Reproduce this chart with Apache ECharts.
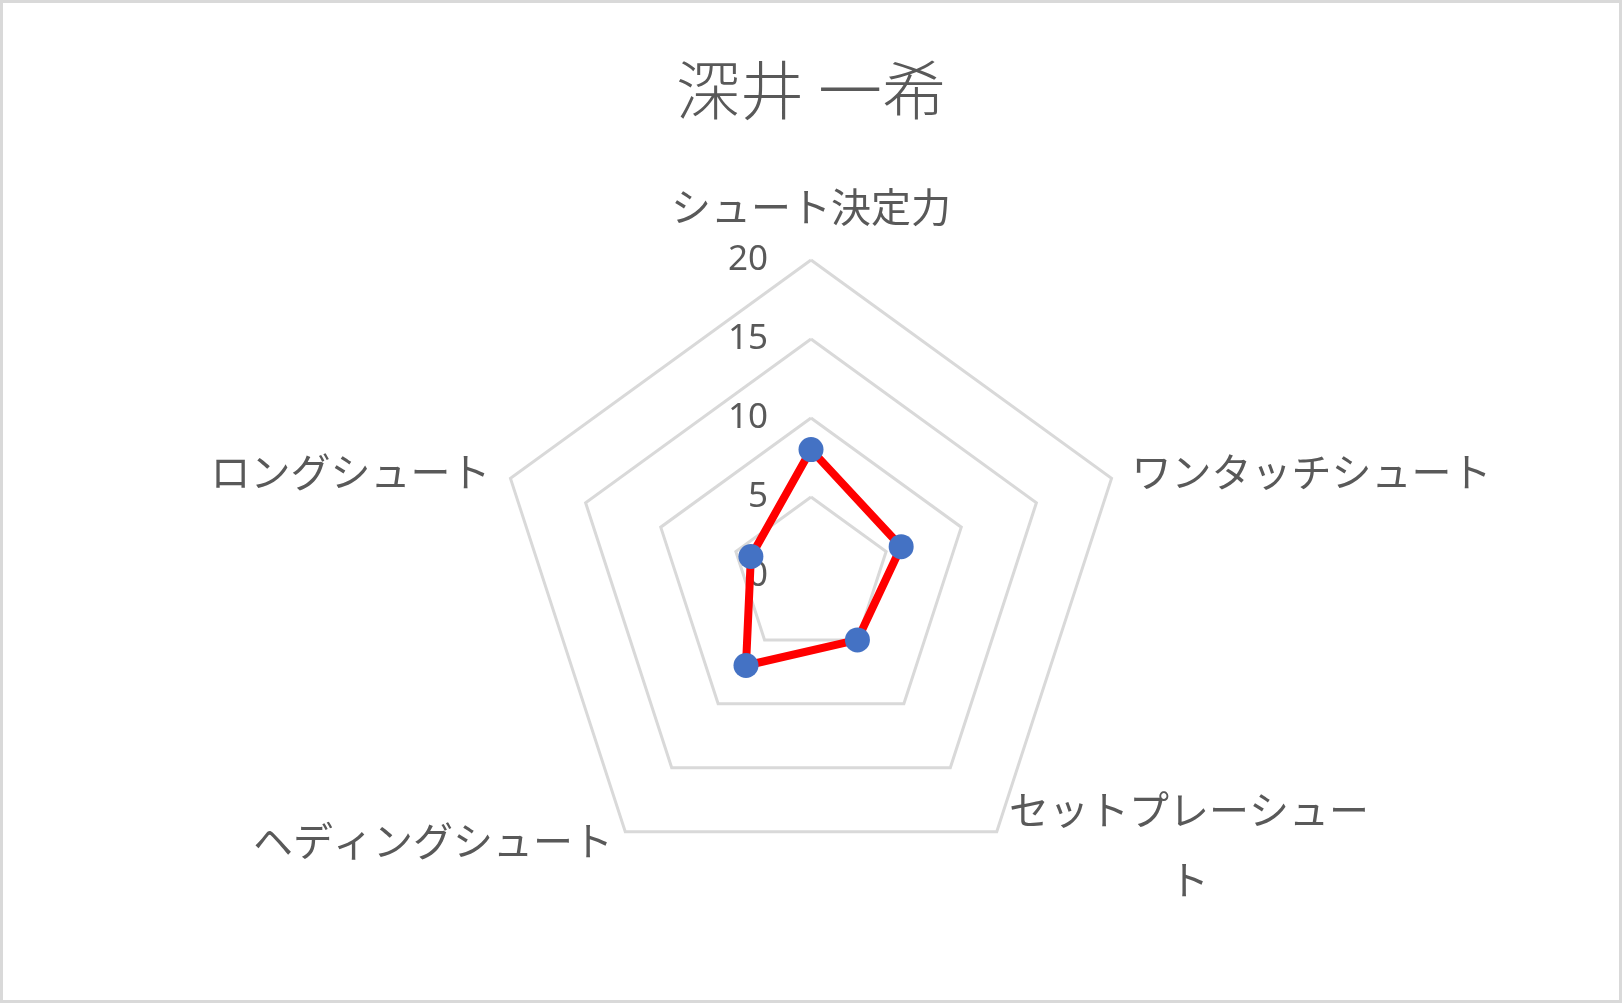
<!DOCTYPE html>
<html>
<head>
<meta charset="utf-8">
<script src="https://cdn.jsdelivr.net/npm/echarts@6/dist/echarts.min.js"></script>
<style>
  html, body { margin: 0; padding: 0; background: #ffffff; }
  #chart { position: absolute; left: 0; top: 0; width: 1622px; height: 1003px; }
  #frame { position: absolute; left: 0; top: 0; width: 1622px; height: 1003px; box-sizing: border-box; border: 3px solid #d9d9d9; pointer-events: none; }
</style>
</head>
<body>
<div id="chart"></div>
<div id="frame"></div>
<script>
const titleText = '深井 一希';
const categories = ['シュート決定力', 'ワンタッチシュート', 'セットプレーシュート', 'ヘディングシュート', 'ロングシュート'];
const values = [8, 6, 5, 7, 4];
const axisMax = 20;
const axisSplits = 4;

const FONT = '"Noto Sans CJK JP", "Noto Sans", sans-serif';
const NAME_SIZE = 40;
const chart = echarts.init(document.getElementById('chart'));

// ECharts lays radar indicators out counter-clockwise; the reference goes clockwise,
// so keep the first item on top and reverse the rest.
const order = [0].concat(categories.slice(1).map(function (_, i) { return categories.length - 1 - i; }));
const orderedNames = order.map(function (i) { return categories[i]; });
const orderedValues = order.map(function (i) { return values[i]; });

const indicators = orderedNames.map(function (name, i) {
  const ind = { name: name, max: axisMax, min: 0 };
  if (i === 0) {
    ind.axisLabel = { show: true };
  }
  return ind;
});

function isLower(name) {
  const i = orderedNames.indexOf(name);
  const ang = (90 + 360 * i / orderedNames.length) * Math.PI / 180;
  return Math.sin(ang) < -0.1;
}

chart.setOption({
  animation: false,
  backgroundColor: '#ffffff',
  title: {
    text: titleText,
    left: 'center',
    top: 53,
    textStyle: { fontFamily: FONT, fontSize: 64, fontWeight: 300, color: '#595959' }
  },
  radar: {
    center: [811, 576],
    radius: 316,
    startAngle: 90,
    shape: 'polygon',
    splitNumber: axisSplits,
    indicator: indicators,
    nameGap: 21,
    axisName: {
      color: '#595959',
      fontFamily: FONT,
      fontSize: NAME_SIZE,
      formatter: function (name) {
        if (name === categories[0]) {
          return '{top|' + name + '}';
        }
        const style = isLower(name) ? 'low' : 'n';
        if (name.length > 9) {
          return '{wrap|' + name.slice(0, 9) + '}\n{wrap|' + name.slice(9) + '}';
        }
        return '{' + style + '|' + name + '}';
      },
      rich: {
        top: { fontFamily: FONT, fontSize: NAME_SIZE, color: '#595959', padding: [0, 0, 12, 0] },
        n: { fontFamily: FONT, fontSize: NAME_SIZE, color: '#595959' },
        low: { fontFamily: FONT, fontSize: NAME_SIZE, color: '#595959', padding: [0, 0, 16, 0] },
        wrap: { fontFamily: FONT, fontSize: NAME_SIZE, color: '#595959', align: 'center', lineHeight: 70, padding: [0, 0, 8, 0] }
      }
    },
    axisLine: { show: false },
    axisTick: { show: false },
    axisLabel: {
      show: false,
      fontFamily: '"Noto Sans", sans-serif',
      fontSize: 35,
      color: '#595959',
      margin: 43,
      padding: [6, 0, 0, 0],
      showMinLabel: true,
      showMaxLabel: true
    },
    splitLine: { lineStyle: { color: '#d9d9d9', width: 3 } },
    splitArea: { show: false }
  },
  series: [{
    type: 'radar',
    symbol: 'circle',
    symbolSize: 25,
    itemStyle: { color: '#4472c4' },
    lineStyle: { color: '#ff0000', width: 8 },
    data: [{ value: orderedValues, name: titleText }]
  }]
});
</script>
</body>
</html>
